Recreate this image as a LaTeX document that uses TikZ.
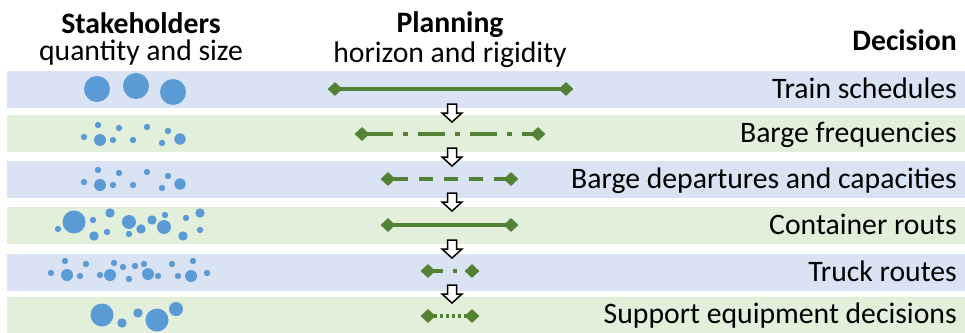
\documentclass[tikz,border=0pt]{standalone}
\usepackage{fontspec}
\setmainfont{Carlito}
\usetikzlibrary{shapes.geometric}
\definecolor{bandblue}{HTML}{DAE3F3}
\definecolor{bandgreen}{HTML}{E2EFDA}
\definecolor{dotblue}{HTML}{5B9BD5}
\definecolor{linegreen}{HTML}{548235}
\tikzset{
  dec/.style={anchor=base east, inner sep=0pt, font=\fontsize{29.7}{32}\selectfont},
  hdr/.style={anchor=base, inner sep=0pt, font=\fontsize{29.7}{32}\selectfont},
  hline/.style={draw=linegreen, line width=3.2pt},
  dia/.style={diamond, fill=linegreen, minimum width=15pt, minimum height=14pt, inner sep=0pt},
  hollowarrow/.style={draw=black, fill=white, line width=1.5pt, line join=miter},
  stake/.style={fill=dotblue}
}
\begin{document}
\begin{tikzpicture}[x=1pt,y=-1pt]
\useasboundingbox (0,0) rectangle (965,332);
% bands
\fill[bandblue]  (7,71)  rectangle (965,108);
\fill[bandgreen] (7,115) rectangle (965,152);
\fill[bandblue]  (7,161) rectangle (965,198);
\fill[bandgreen] (7,207) rectangle (965,244);
\fill[bandblue]  (7,254) rectangle (965,291);
\fill[bandgreen] (7,297) rectangle (965,334);
% headers
\node[hdr, font=\fontsize{29.7}{32}\selectfont\bfseries] (h1) at (141,33) {Stakeholders};
\node[hdr] (h1b) at (141,60) {quantity and size};
\node[hdr, font=\fontsize{29.7}{32}\selectfont\bfseries] (h2) at (450,32) {Planning};
\node[hdr] (h2b) at (450,62) {horizon and rigidity};
\node[dec, font=\fontsize{29.7}{32}\selectfont\bfseries] (h3) at (957,50) {Decision};
% decisions
\node[dec] (t1) at (957,98) {Train schedules};
\node[dec] (t2) at (957,142) {Barge frequencies};
\node[dec] (t3) at (957,188) {Barge departures and capacities};
\node[dec] (t4) at (957,234) {Container routs};
\node[dec] (t5) at (957,281) {Truck routes};
\node[dec] (t6) at (957,323) {Support equipment decisions};
% planning lines
\coordinate (a1) at (335,89);  \coordinate (b1) at (566,89);
\coordinate (a2) at (362,134); \coordinate (b2) at (538,134);
\coordinate (a3) at (388,179); \coordinate (b3) at (511,179);
\coordinate (a4) at (388,225); \coordinate (b4) at (511,225);
\coordinate (a5) at (428,271); \coordinate (b5) at (472,271);
\coordinate (a6) at (428,316); \coordinate (b6) at (472,316);
\draw[hline] (a1) -- (b1);
\draw[hline, dash pattern=on 27pt off 10pt on 5pt off 10pt, dash phase=-4pt] (a2) -- (b2);
\draw[hline, dash pattern=on 14pt off 11pt, dash phase=-6pt] (a3) -- (b3);
\draw[hline] (a4) -- (b4);
\draw[hline, dash pattern=on 15pt off 10pt on 4pt off 20pt] (a5) -- (b5);
\draw[hline, dash pattern=on 3pt off 3pt] (a6) -- (b6);
\foreach \i in {1,...,6}{
  \node[dia] (da\i) at (a\i) {};
  \node[dia] (db\i) at (b\i) {};
}
% hollow arrows
\foreach \yt in {104,148,193,240,285}{
  \draw[hollowarrow] (447.5,\yt) -- (456.5,\yt) -- (456.5,\yt+9) -- (462,\yt+9) -- (452,\yt+18) -- (442,\yt+9) -- (447.5,\yt+9) -- cycle;
}
% stakeholders band 1
\foreach \x/\y/\r in {97/89/13, 136/86/13, 173/92/13}{\fill[stake] (\x,\y) circle (\r);}
% band 2 and 3
\foreach \dy in {0,45}{
 \foreach \x/\y/\r in {98/125/3.2, 119/128/3.2, 147/127/3.2, 168/131/3.2, 84/137/3.2, 100/140/6, 113/140/3.2, 133/140/3.2, 162/143/3.2, 180/139/5.7}{
   \fill[stake] (\x,\y+\dy) circle (\r);}
}
% band 4
\foreach \x/\y/\r in {74/222/11.5, 93/220/3.2, 110/213/4.7, 129/222/7, 152/220/4.7, 165/215/3.2, 186/218/3.2, 200/213/4.7, 58/229/3.2, 94/236/4.7, 107/232/3.2, 129/234/3.2, 141/229/4.7, 164/227/7, 183/236/4.7, 200/230/3.2}{
  \fill[stake] (\x,\y) circle (\r);}
% band 5
\foreach \x/\y/\r in {65/261/3.2, 86/264/3.2, 114/263/3.2, 123/267/3.2, 135/266/3.2, 144/264/3.2, 172/264/3.2, 193/261/3.2, 51/273/3.2, 67/275/6, 80/276/3.2, 100/275/3.2, 110/275/6, 129/279/3.2, 148/274/6, 158/276/3.2, 178/276/3.2, 191/276/6, 207/273/3.2}{
  \fill[stake] (\x,\y) circle (\r);}
% band 6
\foreach \x/\y/\r in {102/315/11.5, 122/323/4.7, 138/313/4.7, 157/320/11.5, 176/309/7}{
  \fill[stake] (\x,\y) circle (\r);}
\end{tikzpicture}
\end{document}
